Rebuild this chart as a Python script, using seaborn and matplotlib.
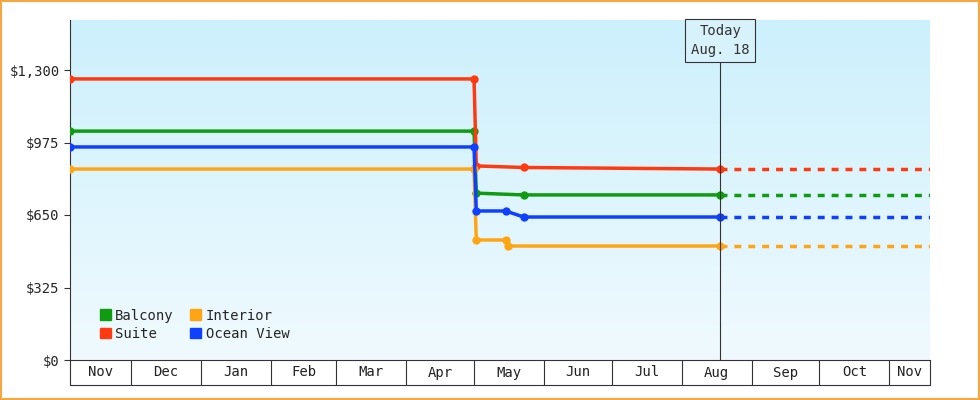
import matplotlib
matplotlib.use("Agg")
import matplotlib.pyplot as plt
import matplotlib.dates as mdates
import seaborn as sns
import pandas as pd
import numpy as np
from matplotlib.patches import Rectangle

sns.set_style("white")
plt.rcParams['font.family'] = ['DejaVu Sans Mono']

suite_dates = ["2023-11-04", "2024-05-01", "2024-05-02", "2024-05-23", "2024-05-23", "2024-08-18"]
suite_vals = [1260, 1260, 870, 870, 856, 856]
balcony_dates = ["2023-11-04", "2024-05-01", "2024-05-02", "2024-05-23", "2024-08-18"]
balcony_vals = [1026, 1026, 748, 740, 740]
ocean_dates = ["2023-11-04", "2024-05-01", "2024-05-02", "2024-05-15", "2024-05-23", "2024-08-18"]
ocean_vals = [955, 955, 668, 668, 641, 641]
interior_dates = ["2023-11-04", "2024-05-01", "2024-05-02", "2024-05-15", "2024-05-16", "2024-08-18"]
interior_vals = [856, 856, 538, 538, 511, 511]
end_date = "2024-11-19"
today = "2024-08-18"
month_labels = ["Nov", "Dec", "Jan", "Feb", "Mar", "Apr", "May", "Jun", "Jul", "Aug", "Sep", "Oct", "Nov"]
yticks = [0, 325, 650, 975, 1300]

series = [("Balcony", balcony_dates, balcony_vals, "#109c10"),
          ("Suite", suite_dates, suite_vals, "#ff3a10"),
          ("Interior", interior_dates, interior_vals, "#ffa514"),
          ("Ocean View", ocean_dates, ocean_vals, "#1040ff")]

fig = plt.figure(figsize=(9.8, 4), dpi=100)
fig.patches.append(Rectangle((0.001, 0.002), 0.998, 0.996, transform=fig.transFigure,
                             fill=False, edgecolor="#f5a742", lw=1.5))
ax = fig.add_axes([70/980, 40/400, 860/980, 340/400])
x0 = pd.Timestamp("2023-11-04"); x1 = pd.Timestamp(end_date)
ax.set_xlim(x0, x1)
ymax = 1300 * 340 / 290
ax.set_ylim(0, ymax)

grad = np.linspace(0, 1, 256).reshape(-1, 1)
cmap = matplotlib.colors.LinearSegmentedColormap.from_list("g", ["#f0fafe", "#ccf0fc"])
ax.imshow(grad, aspect="auto", cmap=cmap, origin="lower", extent=[0, 1, 0, 1],
          transform=ax.transAxes, zorder=0)

for name, d, v, c in series:
    df = pd.DataFrame({"date": pd.to_datetime(d), "val": v})
    sns.lineplot(data=df, x="date", y="val", ax=ax, color=c, lw=2.5, marker="o",
                 markersize=6, markeredgewidth=0, label=None, zorder=3)
    ext = pd.DataFrame({"date": pd.to_datetime([d[-1], end_date]), "val": [v[-1], v[-1]]})
    sns.lineplot(data=ext, x="date", y="val", ax=ax, color=c, lw=2.5, linestyle=(0, (2, 2)), zorder=3)

t = pd.Timestamp(today)
ax.plot([t, t], [0, 0.88], transform=ax.get_xaxis_transform(), color="#333333", lw=0.8, zorder=4)
ax.text(t, 0.94, "Today\nAug. 18", transform=ax.get_xaxis_transform(), ha="center", va="center",
        fontsize=10, color="#333333", linespacing=1.4,
        bbox=dict(boxstyle="square,pad=0.4", fc="#d8f2fc", ec="#333333", lw=0.8), zorder=5)

ax.set_yticks(yticks)
ax.set_yticklabels([f"${v:,}" for v in yticks], fontsize=10)
ax.tick_params(axis="y", length=4, color="#333333", left=True)
ax.set_xticks([])
ax.set_xlabel(""); ax.set_ylabel("")
for s in ["top", "right"]:
    ax.spines[s].set_visible(False)
ax.spines["left"].set_color("#333333")
ax.spines["bottom"].set_color("#333333")

bounds = [x0] + [pd.Timestamp(f"{y}-{m:02d}-01") for y, m in
                 [(2023, 12)] + [(2024, k) for k in range(1, 12)]] + [x1]
tr = ax.get_xaxis_transform()
yb = -25/340
for b in bounds:
    ax.plot([b, b], [0, yb], transform=tr, color="#333333", lw=0.8, clip_on=False)
ax.plot([x0, x1], [yb, yb], transform=tr, color="#333333", lw=0.8, clip_on=False)
for i, lab in enumerate(month_labels):
    mid = bounds[i] + (bounds[i+1] - bounds[i]) / 2
    ax.text(mid, yb/2, lab, transform=tr, ha="center", va="center", fontsize=10, color="#222222")

handles = [Rectangle((0, 0), 1, 1, color=c) for _, _, _, c in series]
ax.legend(handles, [s[0] for s in series], ncol=2, loc="lower left", bbox_to_anchor=(0.02, 0.02),
          frameon=False, fontsize=10, handlelength=0.8, handleheight=0.8, handletextpad=0.3,
          columnspacing=1.2, labelspacing=0.3)

fig.savefig("out.png", dpi=100)
